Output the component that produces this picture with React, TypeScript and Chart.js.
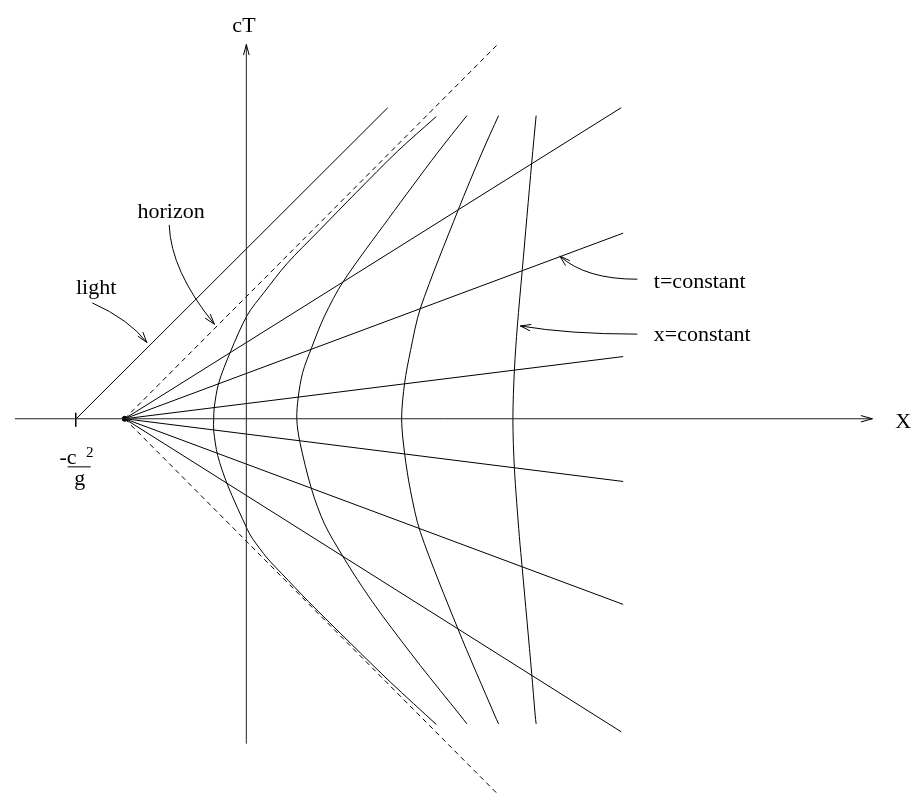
import { useEffect, useRef } from 'react';
import { Chart, registerables } from 'chart.js';

Chart.register(...registerables);

// Coordinates: X measured from the cT axis, cT measured from the X axis (diagram units)
const focusPoint = [[-123, 0]];
const tickMark = [[-172.5, 6], [-172.5, -8]];
const xAxisLine = [[-234, 0], [633, 0]];
const tAxisLine = [[0, -329], [0, 379]];
const lightRay = [[-172, 0], [143, 315]];
const horizonFuture = [[-123, 0], [253, 378]];
const horizonPast = [[-123, 0], [253, -379]];
const tConstantEnds = [[379, 315], [381, 188], [381, 63], [381, -63.5], [381, -188], [379, -317]];

const xConst1 = [
  [192, 306], [153, 271], [111, 229], [73, 190], [41, 157], [18, 128], [1, 105], [-16, 68], [-28, 36],
  [-32.5, 11], [-33, 0], [-33, -12], [-29, -37], [-19, -67], [1, -112], [6, -121], [21, -141],
  [36, -157], [62.7, -185], [106, -228], [146, -267], [192, -309.5],
];
const xConst2 = [
  [223, 307], [193, 269], [144, 203], [98, 139], [79, 104], [66, 72], [57, 47], [52.5, 22], [51, 0],
  [54, -23], [66, -71.5], [79, -106.5], [98, -140], [117, -170], [138, -200], [176, -250],
  [216, -300], [223, -309],
];
const xConst3 = [
  [255, 307], [238, 269], [214, 211], [176, 112], [166, 69], [160, 36], [157, 0], [160, -35],
  [166, -73], [176, -115], [214, -213], [251, -300], [255, -309],
];
const xConst4 = [
  [293, 307], [288.5, 259], [279, 151], [274, 94], [271, 49], [269.5, 0], [271, -50],
  [276, -119], [279, -152], [288.5, -258], [292, -300], [293, -309],
];

const pts = (a: number[][]) => a.map(([x, y]) => ({ x, y }));

function arrowHead(ctx: CanvasRenderingContext2D, tx: number, ty: number, fx: number, fy: number, len: number, ang: number) {
  const a = Math.atan2(ty - fy, tx - fx);
  ctx.beginPath();
  ctx.moveTo(tx - len * Math.cos(a - ang), ty - len * Math.sin(a - ang));
  ctx.lineTo(tx, ty);
  ctx.lineTo(tx - len * Math.cos(a + ang), ty - len * Math.sin(a + ang));
  ctx.stroke();
}

const overlay = {
  id: 'overlay',
  afterDatasetsDraw(chart: any) {
    const ctx: CanvasRenderingContext2D = chart.ctx;
    const sx = chart.scales.x;
    const sy = chart.scales.y;
    const px = (v: number) => sx.getPixelForValue(v);
    const py = (v: number) => sy.getPixelForValue(v);
    ctx.save();
    ctx.strokeStyle = '#000';
    ctx.fillStyle = '#000';
    ctx.lineWidth = 1;
    ctx.setLineDash([]);

    // axis arrowheads
    arrowHead(ctx, px(xAxisLine[1][0]), py(0), px(xAxisLine[1][0]) - 10, py(0), 12, 0.27);
    arrowHead(ctx, px(0), py(tAxisLine[1][1]), px(0), py(tAxisLine[1][1]) + 10, 11, 0.26);

    // fraction bar of -c^2/g
    ctx.beginPath();
    ctx.moveTo(px(-180.7), py(-48.7));
    ctx.lineTo(px(-157.3), py(-48.7));
    ctx.stroke();

    // annotation arrows (quadratic curves)
    const arrows = [
      { s: [-155.7, 117.3], c: [-118.7, 100.7], e: [-100.7, 77.3] },
      { s: [-78, 196.3], c: [-76.3, 149.7], e: [-32.3, 95.7] },
      { s: [395.3, 141.3], c: [343, 141.3], e: [317, 164.7] },
      { s: [395.3, 85.7], c: [326, 85.7], e: [277, 94] },
    ];
    arrows.forEach(({ s, c, e }) => {
      ctx.beginPath();
      ctx.moveTo(px(s[0]), py(s[1]));
      ctx.quadraticCurveTo(px(c[0]), py(c[1]), px(e[0]), py(e[1]));
      ctx.stroke();
      arrowHead(ctx, px(e[0]), py(e[1]), px(c[0]), py(c[1]), 11, 0.3);
    });

    // labels
    const serif = '"Liberation Serif", "Times New Roman", serif';
    ctx.textBaseline = 'alphabetic';
    ctx.font = `22px ${serif}`;
    ctx.textAlign = 'center';
    ctx.fillText('cT', px(-2.4), py(392));
    ctx.fillText('X', px(664), py(-9.5));
    ctx.textAlign = 'left';
    ctx.fillText('horizon', px(-110), py(203));
    ctx.fillText('light', px(-172.3), py(126.3));
    ctx.fillText('t=constant', px(412), py(132.3));
    ctx.fillText('x=constant', px(412), py(78.3));
    ctx.fillText('-c', px(-189), py(-46));
    ctx.fillText('g', px(-174), py(-66.7));
    ctx.font = `15px ${serif}`;
    ctx.fillText('2', px(-162), py(-38.7));
    ctx.restore();
  },
};

export default function App() {
  const ref = useRef<HTMLCanvasElement>(null);
  useEffect(() => {
    if (!ref.current) return;
    const line = (d: number[][], extra: any = {}) => ({
      data: pts(d),
      showLine: true,
      borderColor: '#000',
      borderWidth: 1,
      pointRadius: 0,
      tension: 0,
      ...extra,
    });
    const datasets: any[] = [
      line(xAxisLine, { borderColor: '#222' }),
      line(tAxisLine, { borderColor: '#222' }),
      line(tickMark),
      line(lightRay),
      line(horizonFuture, { borderDash: [5, 4] }),
      line(horizonPast, { borderDash: [5, 4] }),
      ...tConstantEnds.map((e) => line([focusPoint[0], e])),
      line(xConst1, { tension: 0.3 }),
      line(xConst2, { tension: 0.3 }),
      line(xConst3, { tension: 0.3 }),
      line(xConst4, { tension: 0.3 }),
      { data: pts(focusPoint), pointRadius: 2.5, pointBackgroundColor: '#000', pointBorderColor: '#000', showLine: false },
    ];
    const chart = new Chart(ref.current, {
      type: 'scatter',
      data: { datasets },
      options: {
        animation: false,
        responsive: false,
        events: [],
        layout: { padding: 0 },
        plugins: { legend: { display: false }, tooltip: { enabled: false } },
        scales: {
          x: { type: 'linear', display: false, min: -244, max: 673 },
          y: { type: 'linear', display: false, min: -381, max: 419 },
        },
      },
      plugins: [overlay],
    });
    return () => chart.destroy();
  }, []);
  return (
    <div style={{ position: 'absolute', left: 0, top: 0, width: 917, height: 800, background: '#fff' }}>
      <canvas ref={ref} width={917} height={800} style={{ display: 'block' }} />
    </div>
  );
}
